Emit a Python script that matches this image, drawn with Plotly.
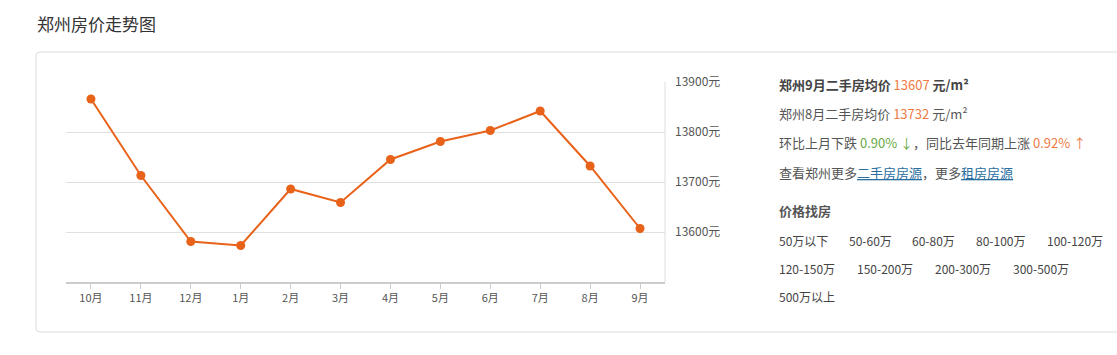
import plotly.graph_objects as go

months = ["10月", "11月", "12月", "1月", "2月", "3月", "4月", "5月", "6月", "7月", "8月", "9月"]
prices = [13866, 13713, 13581, 13573, 13686, 13659, 13745, 13781, 13803, 13842, 13732, 13607]
y_ticks = [13600, 13700, 13800, 13900]
y_tick_labels = ["13600元", "13700元", "13800元", "13900元"]
price_ranges_row1 = ["50万以下", "50-60万", "60-80万", "80-100万", "100-120万"]
price_ranges_row2 = ["120-150万", "150-200万", "200-300万", "300-500万"]
price_ranges_row3 = ["500万以上"]

W, H = 1117, 355
L, R, T, B = 66, 665, 82, 282
FONT = "Noto Sans CJK SC, Microsoft YaHei, sans-serif"
ORANGE = "#e8621a"

def px(x):
    return (x - L) / (R - L)

def py(y):
    return (B - y) / (B - T)

fig = go.Figure()
fig.add_trace(go.Scatter(
    x=months, y=prices, mode="lines+markers",
    line=dict(color=ORANGE, width=2),
    marker=dict(color=ORANGE, size=9),
    hoverinfo="x+y",
))

annotations = []

def text(x, y, s, size=13, color="#555", anchor="left"):
    annotations.append(dict(
        x=px(x), y=py(y), xref="paper", yref="paper", text=s, showarrow=False,
        xanchor=anchor, yanchor="middle", font=dict(family=FONT, size=size, color=color),
    ))

text(35, 24, "郑州房价走势图", size=17, color="#333")
text(777, 84, "<b>郑州9月二手房均价</b> <span style='color:#f07a45'>13607</span> <b>元/m²</b>", color="#444")
text(777, 113, "郑州8月二手房均价 <span style='color:#f07a45'>13732</span> 元/m²")
text(777, 142, "环比上月下跌 <span style='color:#6aaa46'>0.90% ↓</span>，同比去年同期上涨 <span style='color:#f07a45'>0.92% ↑</span>")
text(777, 172, "查看郑州更多<span style='color:#2a6ea0'><u>二手房房源</u></span>，更多<span style='color:#2a6ea0'><u>租房房源</u></span>")
text(777, 210, "<b>价格找房</b>", color="#555")

row1_x = [777, 847, 910, 974, 1045]
row2_x = [777, 855, 933, 1011]
row3_x = [777]
for xs, labels, yy in [(row1_x, price_ranges_row1, 240), (row2_x, price_ranges_row2, 268), (row3_x, price_ranges_row3, 296)]:
    for xx, lab in zip(xs, labels):
        text(xx, yy, lab, size=12, color="#444")

shapes = [
    dict(type="path", xref="paper", yref="paper",
         path=f"M {px(1140)},{py(52)} L {px(40)},{py(52)} Q {px(36)},{py(52)} {px(36)},{py(56)} "
              f"L {px(36)},{py(328)} Q {px(36)},{py(332)} {px(40)},{py(332)} L {px(1140)},{py(332)}",
         line=dict(color="#dcdcdc", width=1)),
    dict(type="line", xref="paper", yref="paper", x0=1, x1=1, y0=0, y1=1,
         line=dict(color="#dddddd", width=1)),
]

fig.update_layout(
    width=W, height=H,
    margin=dict(l=L, r=W - R, t=T, b=H - B, pad=0),
    paper_bgcolor="white", plot_bgcolor="white",
    showlegend=False,
    font=dict(family=FONT, size=11, color="#555"),
    annotations=annotations,
    shapes=shapes,
    xaxis=dict(
        type="category", range=[-0.5, len(months) - 0.5],
        showgrid=False, showline=True, linecolor="#cccccc", linewidth=2,
        ticks="outside", ticklen=5, tickcolor="#cccccc", tickwidth=1,
        tickfont=dict(family=FONT, size=11, color="#555"), zeroline=False,
    ),
    yaxis=dict(
        side="right", range=[13500, 13900],
        tickvals=y_ticks, ticktext=y_tick_labels,
        showgrid=True, gridcolor="#e0e0e0", gridwidth=1,
        showline=False, zeroline=False, ticks="", ticklabelstandoff=9,
        tickfont=dict(family=FONT, size=12, color="#555"),
    ),
)

fig.write_html("out.html")
